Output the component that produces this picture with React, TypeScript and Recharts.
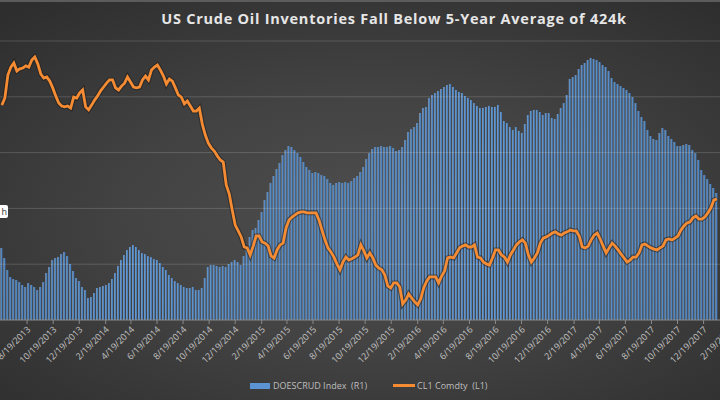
import React from 'react';
import { ComposedChart, Bar, Line, XAxis, YAxis, ReferenceLine } from 'recharts';

// weekly observations, first week ending 6/21/2013
const firstWeek = '6/21/2013';

// DOESCRUD Index (R1), weekly
const inventory = [
  364.5, 355.5, 344.8, 338.5, 336.7, 335.8, 334.0, 331.4, 329.6, 333.1,
  331.4, 329.6, 326.9, 329.6, 334.0, 342.1, 347.5, 353.8, 355.5, 356.4,
  359.1, 360.9, 357.3, 350.2, 343.9, 337.6, 334.9, 329.6, 326.9, 319.7,
  320.6, 324.2, 328.7, 329.6, 330.5, 331.4, 333.1, 336.7, 342.1, 348.4,
  353.8, 358.2, 362.7, 365.4, 367.2, 365.4, 362.7, 360.0, 359.1, 357.3,
  356.4, 354.6, 353.8, 351.1, 347.5, 344.8, 340.3, 337.6, 334.9, 333.1,
  331.4, 329.6, 328.7, 328.7, 329.6, 326.9, 326.9, 328.7, 337.6, 347.5,
  349.3, 349.3, 348.4, 347.5, 348.4, 347.5, 350.2, 352.0, 353.8, 352.0,
  349.3, 357.3, 365.4, 374.4, 380.6, 382.4, 389.6, 396.8, 407.5, 414.7,
  422.8, 429.0, 435.3, 440.7, 447.8, 452.3, 455.9, 455.0, 452.3, 449.6,
  446.1, 441.6, 437.1, 434.4, 431.7, 432.6, 431.7, 429.9, 429.0, 426.3,
  422.8, 421.0, 422.8, 423.6, 422.8, 423.6, 422.8, 424.5, 427.2, 429.0,
  432.6, 437.1, 444.3, 449.6, 453.2, 455.0, 455.0, 455.9, 455.0, 455.0,
  455.9, 454.1, 451.4, 452.3, 455.0, 461.3, 468.5, 471.1, 472.9, 476.5,
  485.5, 490.0, 490.9, 498.9, 501.6, 503.4, 505.2, 507.0, 508.8, 510.6,
  511.5, 508.8, 506.1, 504.3, 503.4, 500.7, 498.9, 497.1, 494.4, 491.8,
  490.0, 490.0, 490.9, 491.8, 490.9, 490.9, 492.7, 486.4, 478.3, 476.5,
  472.9, 470.3, 472.9, 469.4, 467.6, 475.6, 483.7, 487.3, 488.2, 488.2,
  486.4, 483.7, 485.5, 485.5, 481.0, 480.1, 484.6, 490.0, 494.4, 501.6,
  516.0, 517.7, 519.5, 524.9, 528.5, 530.3, 533.0, 534.8, 533.9, 533.0,
  531.2, 528.5, 526.7, 523.1, 516.8, 513.3, 511.5, 509.7, 507.9, 506.1,
  503.4, 499.8, 494.4, 487.3, 481.9, 478.3, 470.3, 464.9, 462.2, 461.3,
  467.6, 472.0, 470.3, 464.9, 462.2, 459.5, 455.9, 455.9, 456.8, 457.7,
  456.8, 452.3, 449.6, 443.4, 434.4, 429.9, 426.3, 421.9, 418.3, 413.8,
];

// CL1 Comdty (L1), weekly
const crude = [
  93.4, 95.8, 103.5, 106.2, 107.6, 104.9, 105.6, 105.9, 106.6, 106.2,
  108.6, 109.6, 107.3, 103.9, 102.5, 102.9, 101.5, 99.2, 96.5, 94.1,
  93.1, 92.8, 93.1, 92.4, 96.1, 95.8, 97.5, 98.5, 92.8, 91.8,
  93.4, 95.1, 96.5, 98.2, 99.5, 100.8, 101.9, 101.9, 99.2, 98.5,
  99.8, 100.8, 102.9, 101.2, 99.5, 99.2, 99.5, 101.9, 103.2, 101.9,
  105.2, 106.2, 106.9, 105.2, 103.2, 100.5, 102.2, 101.5, 99.2, 96.8,
  96.1, 93.8, 94.8, 93.1, 91.4, 91.4, 92.4, 87.0, 83.3, 80.6,
  79.0, 77.9, 76.3, 74.9, 74.2, 66.5, 63.5, 58.1, 53.0, 51.0,
  49.0, 45.6, 45.3, 42.9, 45.9, 49.3, 49.3, 47.3, 46.9, 45.9,
  42.6, 41.9, 44.6, 46.3, 46.9, 52.0, 54.7, 55.7, 56.4, 57.1,
  57.4, 57.4, 57.1, 57.1, 57.1, 57.1, 54.7, 51.3, 48.0, 45.3,
  43.9, 42.2, 39.9, 37.9, 40.5, 42.2, 41.2, 41.6, 42.2, 42.9,
  46.3, 44.3, 41.9, 43.6, 41.9, 39.5, 38.5, 37.9, 36.2, 32.5,
  31.8, 33.5, 33.5, 32.1, 26.4, 27.7, 29.8, 28.4, 27.1, 26.1,
  28.1, 31.8, 34.1, 35.5, 35.5, 35.5, 33.5, 35.8, 37.5, 41.9,
  42.2, 41.9, 43.6, 45.3, 45.9, 46.3, 45.6, 45.6, 46.3, 42.2,
  41.9, 40.5, 39.9, 39.5, 41.9, 44.6, 44.6, 42.9, 42.2, 40.5,
  42.9, 44.6, 46.3, 47.3, 48.0, 46.9, 42.9, 40.5, 41.9, 43.6,
  46.9, 48.6, 49.0, 49.6, 50.3, 50.7, 50.0, 49.6, 50.3, 50.7,
  51.3, 51.0, 51.0, 49.3, 45.6, 45.3, 45.9, 48.0, 49.6, 50.3,
  48.3, 45.9, 43.6, 45.3, 46.9, 45.9, 44.6, 43.2, 41.9, 40.5,
  41.2, 42.2, 42.2, 43.6, 46.3, 46.6, 45.9, 45.3, 44.9, 44.6,
  45.3, 45.9, 48.0, 48.3, 48.0, 48.6, 49.3, 51.3, 52.7, 53.7,
  54.0, 55.4, 56.0, 55.0, 55.0, 55.7, 57.1, 58.7, 61.4, 61.8,
];

const tickLabels = [
  '8/19/2013', '10/19/2013', '12/19/2013', '2/19/2014', '4/19/2014', '6/19/2014',
  '8/19/2014', '10/19/2014', '12/19/2014', '2/19/2015', '4/19/2015', '6/19/2015',
  '8/19/2015', '10/19/2015', '12/19/2015', '2/19/2016', '4/19/2016', '6/19/2016',
  '8/19/2016', '10/19/2016', '12/19/2016', '2/19/2017', '4/19/2017', '6/19/2017',
  '8/19/2017', '10/19/2017', '12/19/2017', '2/19/2018',
];

const gridLevels = [350, 400, 450, 500, 550];

const toDay = (s: string) => {
  const [m, d, y] = s.split('/').map(Number);
  return Date.UTC(y, m - 1, d) / 86400000;
};

const start = toDay(firstWeek);
const data = inventory.map((v, i) => ({ t: start + 7 * i, inv: v, cl1: crude[i] }));
const ticks = tickLabels.map(toDay);
const labelOf = new Map(ticks.map((t, i) => [t, tickLabels[i]]));

const font = '"Open Sans", "Liberation Sans", sans-serif';

const DateTick = (props: any) => {
  const { x, y, payload } = props;
  const ax = x + 4;
  const ay = y + 4;
  return (
    <text
      x={ax}
      y={ay}
      transform={`rotate(-45 ${ax} ${ay})`}
      textAnchor="end"
      fill="#c4c4c4"
      fontSize={9}
      fontFamily={font}
    >
      {labelOf.get(payload.value)}
    </text>
  );
};

export default function App() {
  return (
    <div
      style={{
        position: 'absolute',
        left: 0,
        top: 0,
        width: 720,
        height: 400,
        overflow: 'hidden',
        background: 'radial-gradient(ellipse 75% 70% at 52% 55%, #4e4e4e 0%, #434343 45%, #2e2e2e 100%)',
        borderTop: '2px solid #5c5c5c',
        boxSizing: 'border-box',
        fontFamily: font,
      }}
    >
      <div
        style={{
          position: 'absolute',
          left: 394,
          top: 7,
          transform: 'translateX(-50%)',
          whiteSpace: 'nowrap',
          color: '#e6e6e6',
          fontSize: 14.5,
          fontWeight: 700,
          letterSpacing: 0.75,
        }}
      >
        US Crude Oil Inventories Fall Below 5-Year Average of 424k
      </div>

      <div style={{ position: 'absolute', left: -40, top: -2 }}>
        <ComposedChart width={800} height={400} data={data} margin={{ top: 41, right: 0, bottom: 0, left: 0 }}>
          <defs>
            <linearGradient id="barFill" x1="0" y1="0" x2="1" y2="0">
              <stop offset="0%" stopColor="#8ea3ba" />
              <stop offset="55%" stopColor="#4d86c6" />
              <stop offset="100%" stopColor="#3f79b8" />
            </linearGradient>
          </defs>
          <XAxis
            type="number"
            dataKey="t"
            domain={[ticks[0] - 157, ticks[0] + 1715]}
            allowDataOverflow
            ticks={ticks}
            interval={0}
            tick={<DateTick />}
            tickSize={4}
            tickMargin={2}
            height={80}
            axisLine={{ stroke: '#8a8a8a' }}
            tickLine={{ stroke: '#8a8a8a' }}
          />
          <YAxis yAxisId="inv" hide domain={[300, 550]} />
          <YAxis yAxisId="px" hide domain={[21, 115]} />
          <Bar yAxisId="inv" dataKey="inv" barSize={2} fill="url(#barFill)" isAnimationActive={false} />
          {gridLevels.map((g) => (
            <ReferenceLine key={g} yAxisId="inv" y={g} stroke="rgba(255,255,255,0.16)" strokeWidth={1} />
          ))}
          <Line
            yAxisId="px"
            dataKey="cl1"
            type="linear"
            stroke="rgba(30,30,30,0.55)"
            strokeWidth={5}
            dot={false}
            activeDot={false}
            isAnimationActive={false}
          />
          <Line
            yAxisId="px"
            dataKey="cl1"
            type="linear"
            stroke="#f58b32"
            strokeWidth={2.8}
            dot={false}
            activeDot={false}
            isAnimationActive={false}
          />
        </ComposedChart>
      </div>

      <div
        style={{
          position: 'absolute',
          left: -22,
          top: 203,
          width: 30,
          height: 13,
          background: '#fff',
          borderRadius: 2,
          color: '#333',
          fontSize: 9,
          lineHeight: '13px',
          textAlign: 'right',
          paddingRight: 1,
          boxSizing: 'border-box',
        }}
      >
        h
      </div>

      <div
        style={{
          position: 'absolute',
          left: 250,
          top: 377,
          display: 'flex',
          alignItems: 'center',
          color: '#bdbdbd',
          fontSize: 9,
          whiteSpace: 'pre',
        }}
      >
        <span style={{ display: 'inline-block', width: 20, height: 6, background: '#5b93d3', marginRight: 3 }} />
        <span>DOESCRUD Index  (R1)</span>
        <span style={{ display: 'inline-block', width: 22, height: 3, background: '#f58b32', marginLeft: 26, marginRight: 2 }} />
        <span>CL1 Comdty  (L1)</span>
      </div>
    </div>
  );
}
